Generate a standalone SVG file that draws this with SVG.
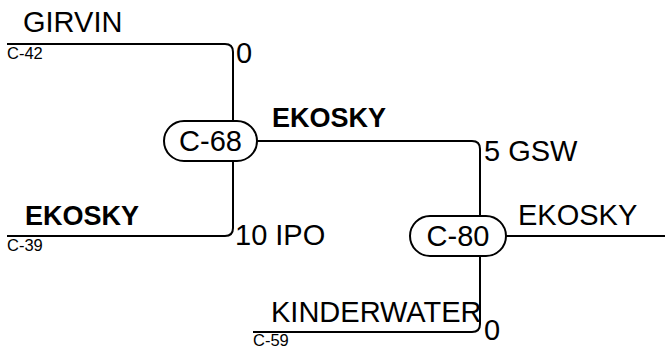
<svg xmlns="http://www.w3.org/2000/svg" width="665" height="349" viewBox="0 0 665 349">
<style>
.l{fill:none;stroke:#000;stroke-width:2}
.n{fill:#fff;stroke:#000;stroke-width:2}
.t{font-family:"Liberation Sans",Arial,sans-serif;font-size:29px;fill:#000}
.b{font-weight:bold;font-size:27px}
.s{font-family:"Liberation Sans",Arial,sans-serif;font-size:16.5px;fill:#000}
</style>
<g id="connectors">
<path class="l" d="M7,44 H225 Q233,44 233,52 V228 Q233,236 225,236 H7"/>
<path class="l" d="M257,141 H472 Q480,141 480,149 V217"/>
<path class="l" d="M506,236 H665"/>
<path class="l" d="M253,332 H472 Q480,332 480,324 V255"/>
</g>
<g id="labels">
<text class="t" x="23" y="32">GIRVIN</text>
<text class="s" x="7" y="59">C-42</text>
<text class="t" x="236" y="63">0</text>
<text class="t b" x="272" y="127">EKOSKY</text>
<text class="t" x="484" y="161">5 GSW</text>
<text class="t b" x="25" y="225">EKOSKY</text>
<text class="s" x="7" y="251">C-39</text>
<text class="t" x="235" y="245">10 IPO</text>
<text class="t" x="518" y="225">EKOSKY</text>
<text class="t" x="271" y="322">KINDERWATER</text>
<text class="s" x="253" y="346">C-59</text>
<text class="t" x="484" y="340">0</text>
</g>
<g id="C-68">
<rect class="n" x="164" y="121" width="93" height="40" rx="20"/>
<text class="t" x="210.5" y="151" text-anchor="middle">C-68</text>
</g>
<g id="C-80">
<rect class="n" x="410" y="216" width="96" height="40" rx="20"/>
<text class="t" x="458" y="246" text-anchor="middle">C-80</text>
</g>
</svg>
